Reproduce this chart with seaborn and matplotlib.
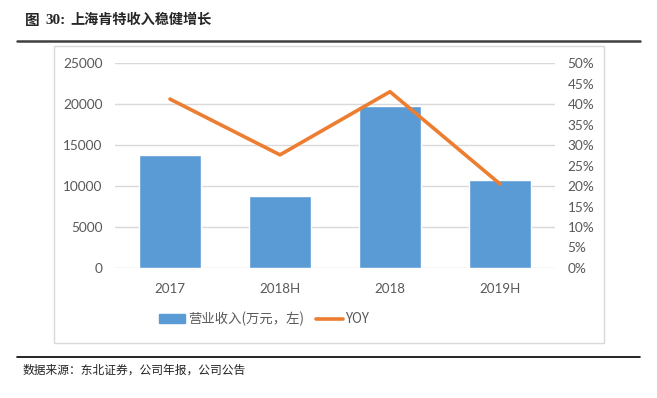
import numpy as np
import pandas as pd
import matplotlib
matplotlib.use('Agg')
import matplotlib.pyplot as plt
from matplotlib.patches import Rectangle
from matplotlib.lines import Line2D
import seaborn as sns

# data
periods = ['2017', '2018H', '2018', '2019H']
revenue = [13800, 8800, 19800, 10700]     # 营业收入(万元)
yoy = [41.2, 27.6, 43.0, 20.5]            # YOY, %

bar_color = '#5B9BD5'
line_color = '#ED7D31'
grid_color = '#D9D9D9'
tick_color = '#595959'

sns.set_theme(style='white')
plt.rcParams['font.family'] = ['Lato', 'Noto Sans CJK SC', 'DejaVu Sans']

df = pd.DataFrame({'period': periods, 'revenue': revenue, 'yoy': yoy})

fig = plt.figure(figsize=(6.57, 3.98), dpi=100)
ax = fig.add_axes([115 / 657, 1 - 268 / 398, 440 / 657, 205 / 398])

# --- bars: revenue on the left axis ---
sns.barplot(data=df, x='period', y='revenue', color=bar_color, width=0.57,
            saturation=1, ax=ax, zorder=3)
ax.set_ylim(0, 25000)
ax.set_yticks(np.arange(0, 25001, 5000))
ax.set_xlim(-0.5, len(periods) - 0.5)
ax.set_xlabel('')
ax.set_ylabel('')
ax.yaxis.grid(True, color=grid_color, lw=1)
ax.set_axisbelow(True)
for s in ax.spines.values():
    s.set_visible(False)
ax.tick_params(axis='y', length=0, pad=9, labelsize=9.8, labelcolor=tick_color)
ax.tick_params(axis='x', length=0, pad=11, labelsize=9.6, labelcolor=tick_color)

# --- line: YOY on the right axis ---
ax2 = ax.twinx()
sns.lineplot(x=np.arange(len(periods)), y=df['yoy'], color=line_color, lw=2.6,
             ax=ax2, zorder=4)
ax2.set_ylim(0, 50)
ax2.set_yticks(np.arange(0, 51, 5))
ax2.set_yticklabels([f'{v}%' for v in range(0, 51, 5)])
ax2.set_ylabel('')
for s in ax2.spines.values():
    s.set_visible(False)
ax2.tick_params(axis='y', length=0, pad=9, labelsize=9.8, labelcolor=tick_color)
ax2.grid(False)

# legend
handles = [Rectangle((0, 0), 1, 1, color=bar_color),
           Line2D([0], [0], color=line_color, lw=2.6)]
fig.legend(handles, ['营业收入(万元，左)', 'YOY'], loc='center',
           bbox_to_anchor=(264 / 657, 1 - 319 / 398), ncol=2, frameon=False,
           handlelength=2.0, handleheight=0.6, columnspacing=0.9,
           handletextpad=0.2, labelcolor=tick_color,
           prop={'family': ['Noto Sans CJK SC', 'DejaVu Sans'], 'size': 9.6})

# chart frame
fig.patches.append(Rectangle((54 / 657, 1 - 343 / 398), 550 / 657, 297 / 398,
                             transform=fig.transFigure, fill=False,
                             edgecolor=grid_color, lw=1))

# title, rules and source line
ty = 1 - 20 / 398
fig.text(25 / 657, ty, '图', fontsize=10.5, fontweight='bold', va='center',
         ha='left', family=['Noto Sans CJK SC', 'DejaVu Sans'])
fig.text(45 / 657, ty, '30:', fontsize=11, fontweight='bold', va='center',
         ha='left', family='Liberation Serif')
fig.text(70 / 657, ty, '上海肯特收入稳健增长', fontsize=10.2, fontweight='bold',
         va='center', ha='left', family=['Noto Sans CJK SC', 'DejaVu Sans'])
fig.add_artist(Line2D([17 / 657, 640 / 657], [1 - 41 / 398, 1 - 41 / 398],
                      transform=fig.transFigure, color='#404040', lw=1.8))
fig.add_artist(Line2D([17 / 657, 640 / 657], [1 - 357 / 398, 1 - 357 / 398],
                      transform=fig.transFigure, color='black', lw=1.2))
fig.text(23 / 657, 1 - 370 / 398, '数据来源：东北证券，公司年报，公司公告',
         fontsize=8.5, va='center', ha='left', color='#222222',
         family=['Noto Sans CJK SC', 'DejaVu Sans'])

fig.savefig('out.png', dpi=100)
